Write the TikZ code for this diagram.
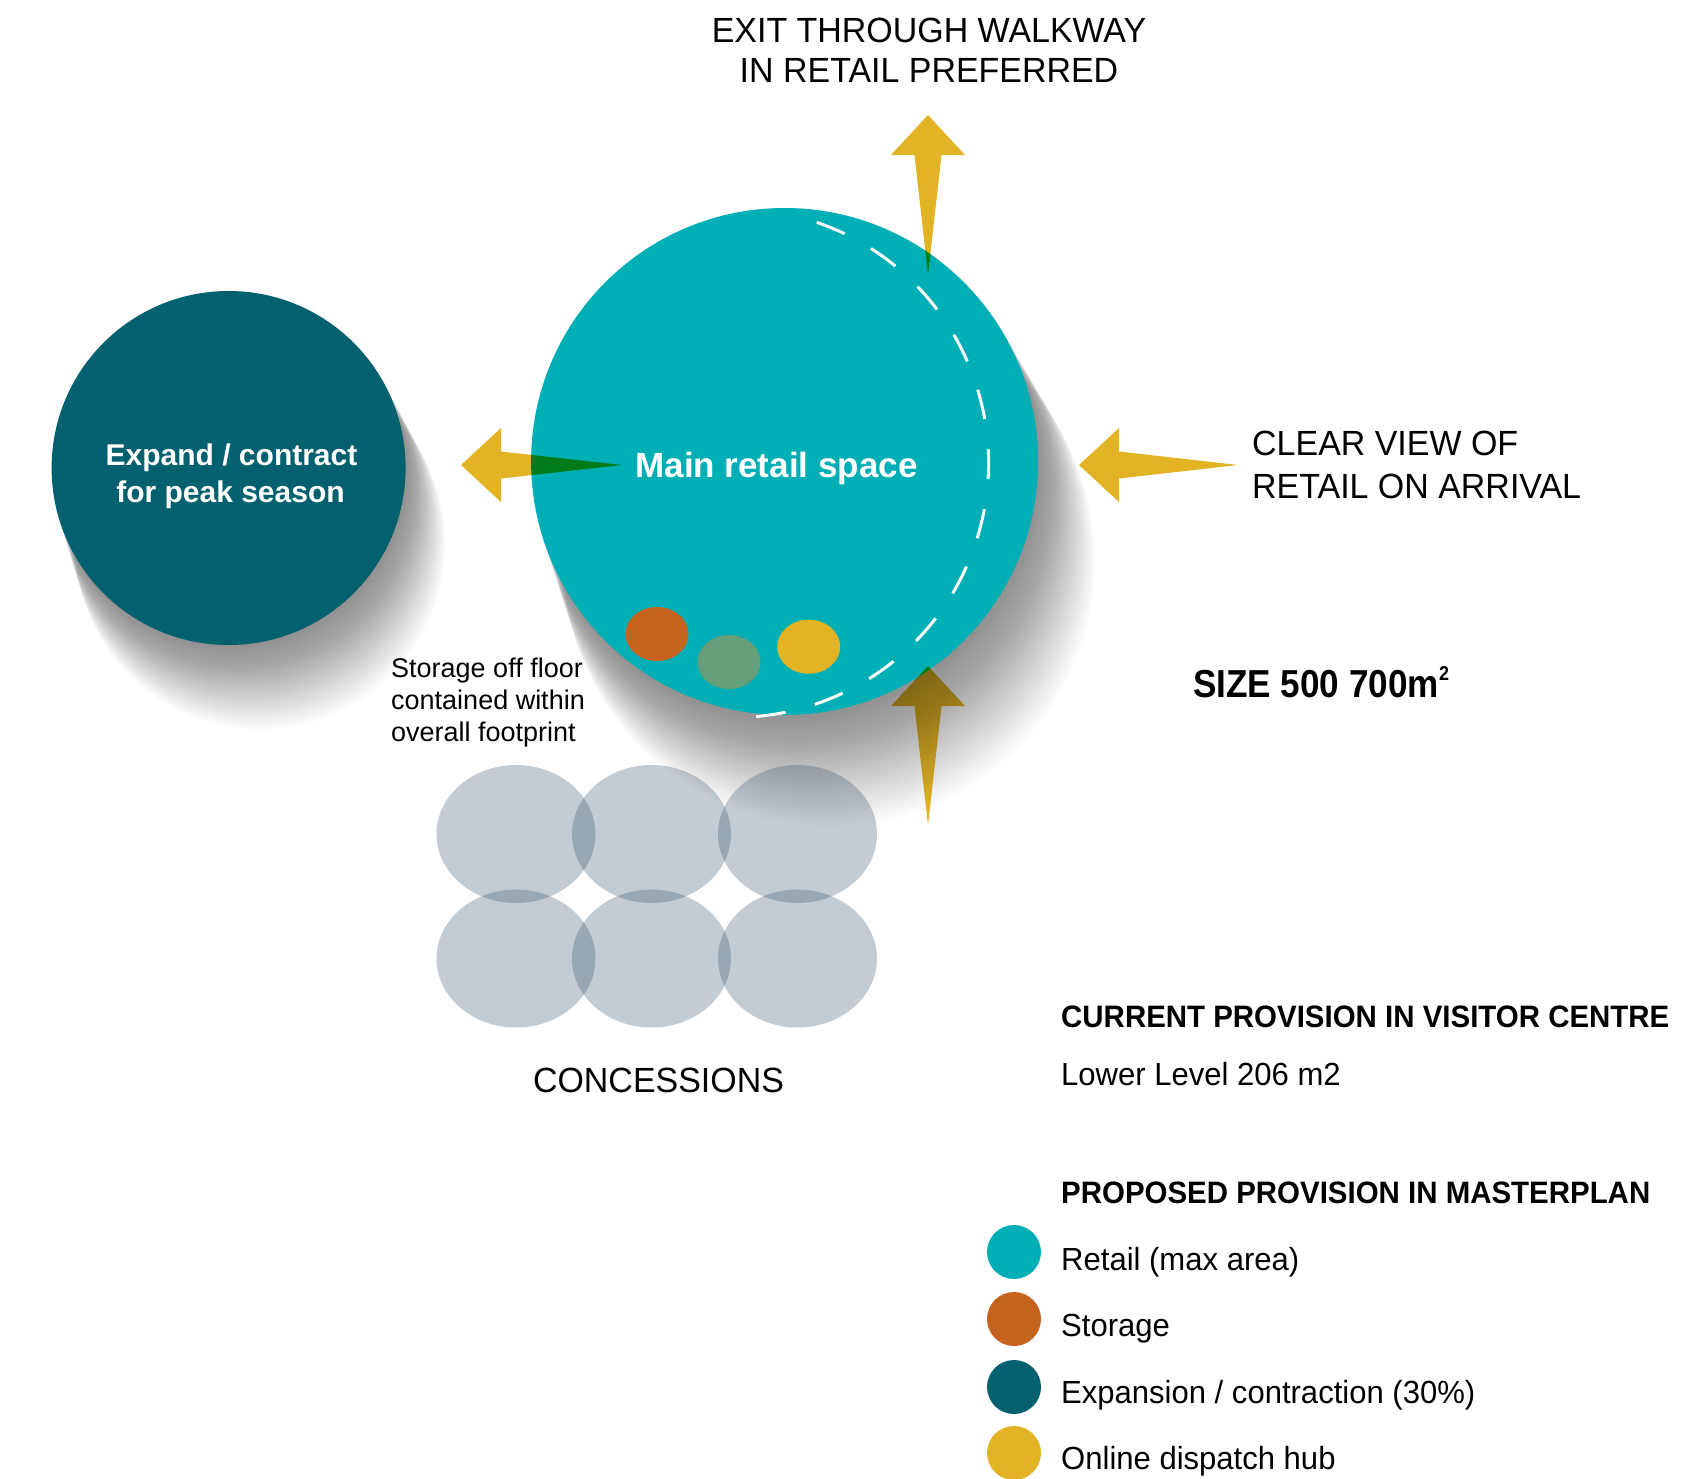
\documentclass[tikz,border=0pt]{standalone}
\usepackage{fontspec}
\setmainfont{Liberation Sans}
\newfontfamily\labfont[FakeStretch=0.97]{Liberation Sans}
\newfontfamily\legfont[FakeStretch=0.97]{Liberation Sans}
\newfontfamily\legheadfont[FakeStretch=0.95]{Liberation Sans}
\newfontfamily\sizefont[FakeStretch=0.9]{Liberation Sans}
\usetikzlibrary{shapes.geometric}
\definecolor{retail}{HTML}{00AFB5}
\definecolor{expandc}{HTML}{03606F}
\definecolor{gold}{HTML}{E2B425}
\definecolor{storagec}{HTML}{C4621E}
\definecolor{dotgreen}{HTML}{659E78}
\definecolor{concess}{RGB}{40,70,95}
\begin{document}
\begin{tikzpicture}[x=1pt,y=-1pt,
  lab/.style={inner sep=0pt, font={\labfont\fontsize{35}{40}\selectfont}},
  bigwhite/.style={inner sep=0pt, text=white, font={\bfseries\fontsize{35}{40}\selectfont}},
  midwhite/.style={inner sep=0pt, text=white, font={\bfseries\fontsize{30}{36}\selectfont}},
  note/.style={inner sep=0pt, font={\fontsize{27}{30}\selectfont}},
  leghead/.style={inner sep=0pt, font={\legheadfont\bfseries\fontsize{31}{36}\selectfont}},
  legtext/.style={inner sep=0pt, font={\legfont\fontsize{32}{36}\selectfont}},
  legdot/.style={circle, inner sep=0pt, minimum size=54pt},
  smalldot/.style={ellipse, inner sep=0pt, minimum width=63pt, minimum height=54pt},
  concbubble/.style={ellipse, inner sep=0pt, minimum width=159pt, minimum height=138pt, fill=concess, fill opacity=0.27},
  arrowfill/.style={fill=gold}
]
\useasboundingbox (0,0) rectangle (1683,1478);
\fill[white] (0,0) rectangle (1683,1478);

% shadows (stacked translucent discs)
\foreach \i in {1,...,40}{
  \pgfmathsetmacro\tt{\i/40}
  \fill[black, opacity=0.012] (784.6+45*\tt, 461.5+100*\tt) circle[radius=253.5+12*\tt];
  \fill[black, opacity=0.011] (228.6+32*\tt, 468+77*\tt) circle[radius=177+8*\tt];
}

% concessions
\node[concbubble] (c1) at (516,834) {};
\node[concbubble] (c2) at (651.5,834) {};
\node[concbubble] (c3) at (797.5,834) {};
\node[concbubble] (c4) at (516,958.5) {};
\node[concbubble] (c5) at (651.5,958.5) {};
\node[concbubble] (c6) at (797.5,958.5) {};

% main circles
\node[circle, fill=expandc, inner sep=0pt, minimum size=354pt] (expand) at (228.6,468) {};
\node[circle, fill=retail, inner sep=0pt, minimum size=507pt] (main) at (784.6,461.5) {};

% dashed boundary
\draw[white, line width=3pt, dash pattern=on 30pt off 30.3pt] (734,463) ++(-71:254.5) arc[start angle=-71, end angle=85, radius=254.5];

% small dots
\node[smalldot, fill=storagec] (dstore) at (657,634) {};
\node[smalldot, fill=dotgreen] (dgreen) at (729,662) {};
\node[smalldot, fill=gold] (dhub) at (808.7,646.7) {};

% arrows
\begin{scope}[blend mode=multiply]
\fill[arrowfill] (928,115) -- (965,155) -- (941.5,155) -- (928,275) -- (914.5,155) -- (891,155) -- cycle;
\fill[arrowfill] (928,666) -- (965,706) -- (941.5,706) -- (928,825) -- (914.5,706) -- (891,706) -- cycle;
\fill[arrowfill] (461,465) -- (501,428) -- (501,451.5) -- (622,465) -- (501,478.5) -- (501,502) -- cycle;
\fill[arrowfill] (1079,465) -- (1119,428) -- (1119,451.5) -- (1238,465) -- (1119,478.5) -- (1119,502) -- cycle;
\end{scope}

% labels
\node[bigwhite, anchor=base] (mainlbl) at (776.5,477) {Main retail space};
\node[midwhite, anchor=base] (exp1) at (231.5,465) {Expand / contract};
\node[midwhite, anchor=base] (exp2) at (230.5,502) {for peak season};

\node[lab, anchor=base] (exit1) at (929,42) {EXIT THROUGH WALKWAY};
\node[lab, anchor=base] (exit2) at (929,82) {IN RETAIL PREFERRED};
\node[lab, anchor=base west] (clear1) at (1252,455) {CLEAR VIEW OF};
\node[lab, anchor=base west] (clear2) at (1252,498) {RETAIL ON ARRIVAL};
\node[lab, anchor=base] (conclbl) at (658.5,1092) {CONCESSIONS};

\node[note, anchor=base west] (st1) at (391,677) {Storage off floor};
\node[note, anchor=base west] (st2) at (391,709) {contained within};
\node[note, anchor=base west] (st3) at (391,741) {overall footprint};

\node[inner sep=0pt, anchor=base west, font={\sizefont\bfseries\fontsize{39}{44}\selectfont}] (size) at (1193,697) {SIZE 500 700m\raisebox{0.42em}{\fontsize{20}{20}\selectfont 2}};

% legend
\node[leghead, anchor=base west] (cur) at (1061,1027) {CURRENT PROVISION IN VISITOR CENTRE};
\node[legtext, anchor=base west] (lower) at (1061,1085) {Lower Level 206 m2};
\node[leghead, anchor=base west] (prop) at (1061,1203) {PROPOSED PROVISION IN MASTERPLAN};

\node[legdot, fill=retail] (k1) at (1014,1252) {};
\node[legdot, fill=storagec] (k2) at (1014,1319) {};
\node[legdot, fill=expandc] (k3) at (1014,1387) {};
\node[legdot, fill=gold] (k4) at (1014,1453) {};
\node[legtext, anchor=base west] (t1) at (1061,1270) {Retail (max area)};
\node[legtext, anchor=base west] (t2) at (1061,1336) {Storage};
\node[legtext, anchor=base west] (t3) at (1061,1403) {Expansion / contraction (30\%)};
\node[legtext, anchor=base west] (t4) at (1061,1469) {Online dispatch hub};
\end{tikzpicture}
\end{document}
